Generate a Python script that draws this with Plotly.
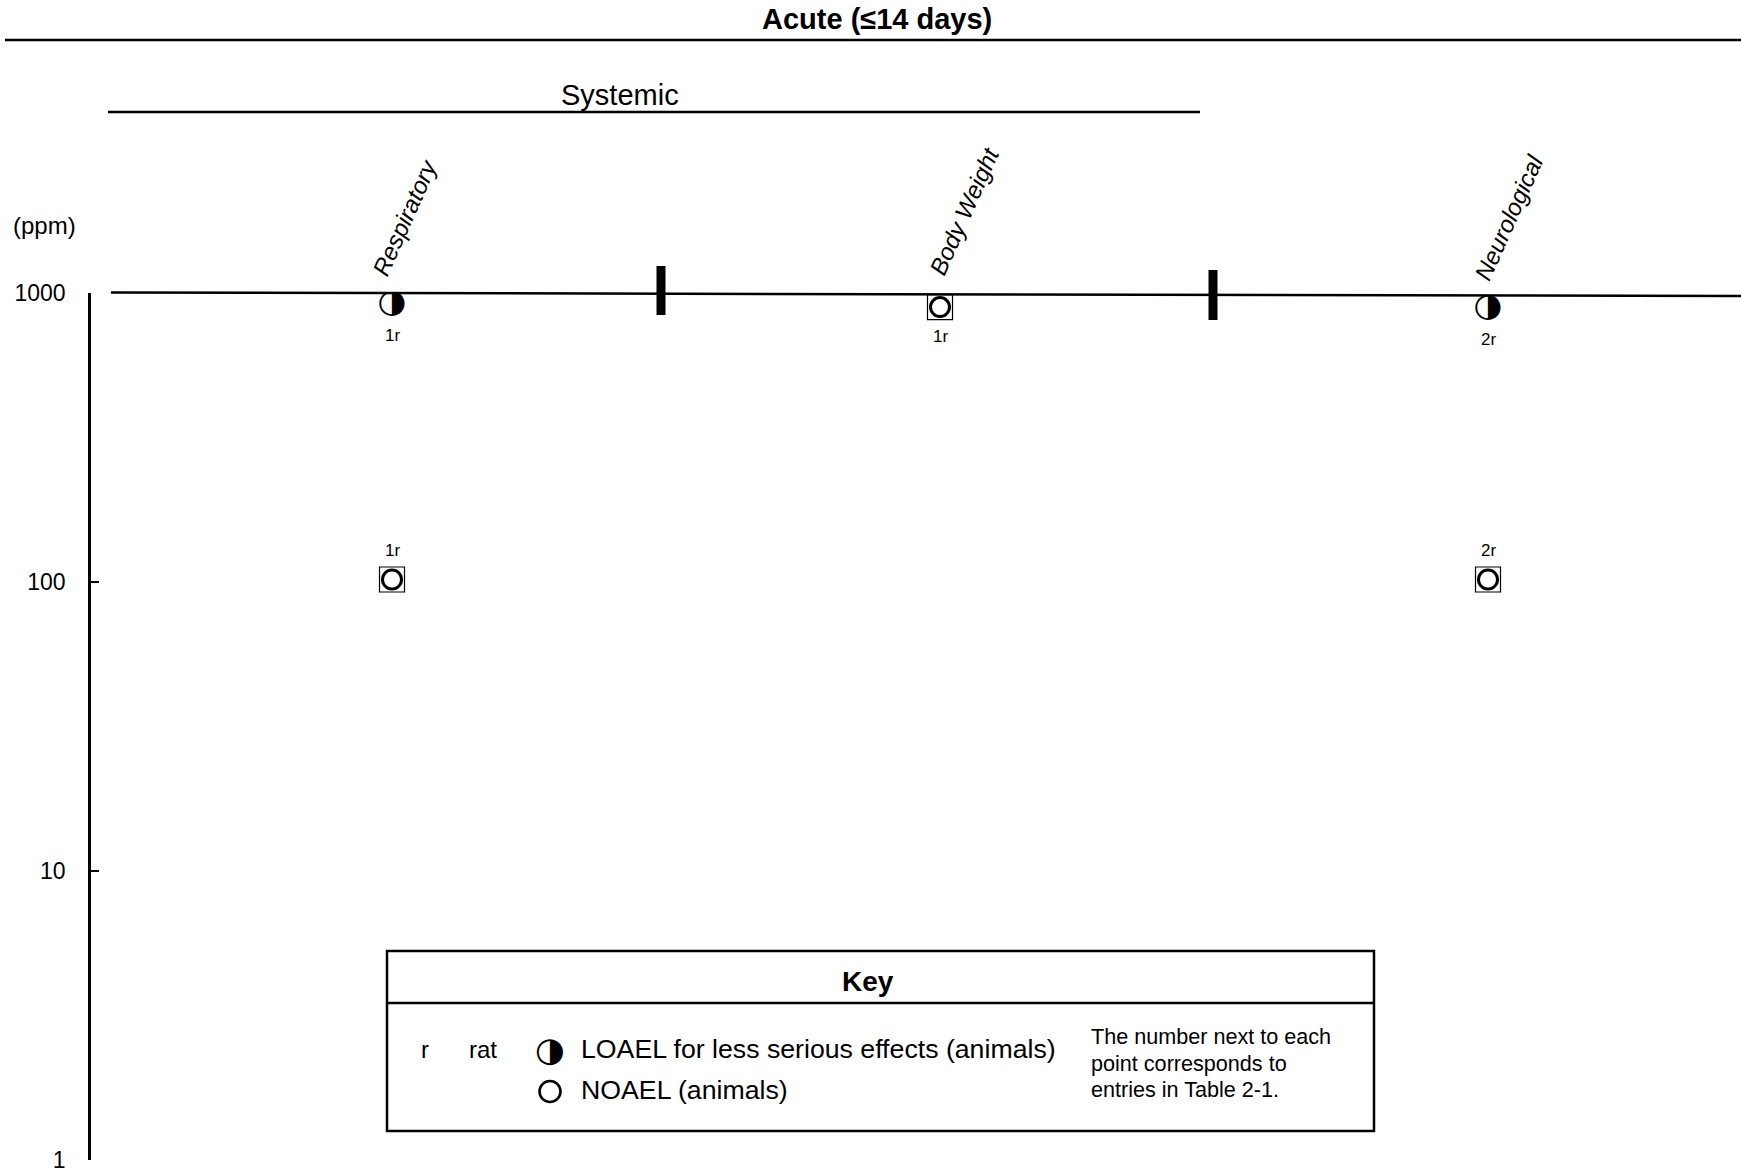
import math
import plotly.graph_objects as go

W, H = 1741, 1172

# ---------------- data ----------------
categories = ["Respiratory", "Body Weight", "Neurological"]
# LOAEL for less serious effects (animals)
loael_cat = ["Respiratory", "Neurological"]
loael_ppm = [916, 887]
loael_lbl = ["1r", "2r"]
# NOAEL (animals)
noael_cat = ["Respiratory", "Body Weight", "Neurological"]
noael_ppm = [102, 894, 102]
noael_lbl = ["1r", "1r", "2r"]
y_tickvals = [1, 10, 100, 1000]
y_ticktext = ["1", "10", "100", "1000"]

# ---------------- helpers (pixel -> paper) ----------------
def px(x):
    return x / W


def py(y):
    return 1 - y / H


FONT = "Liberation Sans, Arial, sans-serif"
SYM = "DejaVu Sans"

AX_LEFT = 91
PLOT_W = W - AX_LEFT
CAT_SP = 548 / PLOT_W
x_lo = -((392 - AX_LEFT) / PLOT_W) / CAT_SP
x_hi = x_lo + 1 / CAT_SP

fig = go.Figure()

# NOAEL: open square + open circle
fig.add_trace(go.Scatter(
    x=noael_cat, y=noael_ppm, mode="markers",
    marker=dict(symbol="square-open", size=25, color="black",
                line=dict(width=1.2, color="black")),
    hoverinfo="skip", showlegend=False))
fig.add_trace(go.Scatter(
    x=noael_cat, y=noael_ppm, mode="markers",
    marker=dict(symbol="circle-open", size=19, color="black",
                line=dict(width=3, color="black")),
    showlegend=False))
# LOAEL: half-filled circle glyph
fig.add_trace(go.Scatter(
    x=loael_cat, y=loael_ppm, mode="text", text=["◑"] * len(loael_cat),
    textposition="middle center",
    textfont=dict(family=SYM, size=33, color="black"),
    showlegend=False))


def note(x, y, text, size, xanchor="center", yanchor="middle", family=FONT, **kw):
    d = dict(x=x, y=y, xref="paper", yref="paper", text=text, showarrow=False,
             xanchor=xanchor, yanchor=yanchor,
             font=dict(family=family, size=size, color="black"))
    d.update(kw)
    return d


annotations = []
# point labels
for c, v, t in zip(loael_cat, loael_ppm, loael_lbl):
    annotations.append(dict(x=c, y=math.log10(v), xref="x", yref="y", text=t,
                            showarrow=False, yshift=-31, xanchor="center", yanchor="middle",
                            font=dict(family=FONT, size=17, color="black")))
for c, v, t in zip(noael_cat, noael_ppm, noael_lbl):
    annotations.append(dict(x=c, y=math.log10(v), xref="x", yref="y", text=t,
                            showarrow=False, yshift=(-29 if v > 500 else 29),
                            xanchor="center", yanchor="middle",
                            font=dict(family=FONT, size=17, color="black")))

# rotated category labels
cat_shift = {"Respiratory": (13, 283), "Body Weight": (24, 282), "Neurological": (21, 287)}
for c in categories:
    dx, bottom = cat_shift[c]
    annotations.append(dict(x=c, xref="x", y=py(bottom), yref="paper", text=c,
                            textangle=-66, xanchor="center", yanchor="bottom",
                            xshift=dx, showarrow=False,
                            font=dict(family=FONT, size=24, color="black", style="italic")))

# headings
annotations.append(note(px(877), py(19), "<b>Acute (≤14 days)</b>", 29))
annotations.append(note(px(620), py(95), "Systemic", 29))
annotations.append(note(px(44), py(226), "(ppm)", 24))

# key box content
annotations.append(note(px(868), py(981), "<b>Key</b>", 28))
annotations.append(note(px(425), py(1049), "r", 24))
annotations.append(note(px(483), py(1049), "rat", 24))
annotations.append(note(px(550), py(1049), "◑", 34, family=SYM))
annotations.append(note(px(579), py(1049), "LOAEL for less serious effects (animals)", 26.7,
                        xanchor="left"))
annotations.append(note(px(579), py(1090), "NOAEL (animals)", 26.7, xanchor="left"))
for ytxt, line in zip([1036, 1063, 1089],
                      ["The number next to each", "point corresponds to",
                       "entries in Table 2-1."]):
    annotations.append(note(px(1089), py(ytxt), line, 21.6, xanchor="left"))

# ---------------- shapes ----------------
shapes = []


def seg(x0, y0, x1, y1, w=2.5):
    shapes.append(dict(type="line", xref="paper", yref="paper",
                       x0=px(x0), x1=px(x1), y0=py(y0), y1=py(y1),
                       line=dict(color="black", width=w)))


seg(5, 40, 1741, 40)        # under title
seg(108, 112, 1200, 112)    # under Systemic
seg(111, 292.5, 1741, 296)  # top reference line
seg(387, 1003, 1374, 1003)  # key divider
# separators
seg(661, 266, 661, 315, 9)
seg(1213, 270, 1213, 320, 9)
# key box
shapes.append(dict(type="rect", xref="paper", yref="paper",
                   x0=px(387), x1=px(1374), y0=py(951), y1=py(1131),
                   line=dict(color="black", width=2.5)))
# key NOAEL symbol (open circle)
shapes.append(dict(type="circle", xref="paper", yref="paper",
                   x0=px(539.5), x1=px(560.5), y0=py(1081), y1=py(1102),
                   line=dict(color="black", width=2.6)))

# ---------------- layout ----------------
fig.update_layout(
    width=W, height=H,
    margin=dict(l=0, r=0, t=0, b=0, autoexpand=False),
    paper_bgcolor="white", plot_bgcolor="white",
    showlegend=False,
    annotations=annotations, shapes=shapes,
    xaxis=dict(domain=[px(AX_LEFT), 1], type="category",
               categoryorder="array", categoryarray=categories,
               range=[x_lo, x_hi], showline=False, showgrid=False,
               zeroline=False, showticklabels=False, ticks="", automargin=False),
    yaxis=dict(domain=[py(1160), py(293)], type="log", range=[0, 3],
               showline=True, linecolor="black", linewidth=2.5,
               ticks="inside", ticklen=8, tickwidth=2, tickcolor="black",
               tickvals=y_tickvals, ticktext=y_ticktext,
               ticklabelstandoff=18, ticklabeloverflow="allow", automargin=False,
               tickfont=dict(family=FONT, size=23, color="black"),
               showgrid=False, zeroline=False),
)

fig.write_html(
    "out.html",
    config={"displayModeBar": False},
    post_script="document.body.style.margin='0';document.body.style.overflow='hidden';",
)
